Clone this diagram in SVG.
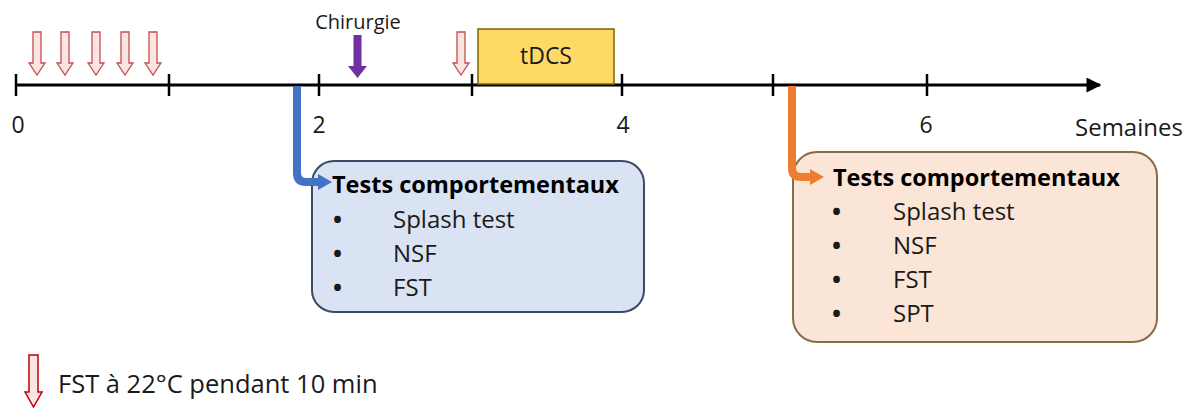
<svg xmlns="http://www.w3.org/2000/svg" width="1195" height="410" viewBox="0 0 1195 410">
<defs>
<style>
.t{font-family:"Open Sans","Noto Sans",sans-serif;fill:#1a1a1a}
.lbl{font-size:23px}
.ttl{font-size:23.5px;font-weight:bold;fill:#000}
.itm{font-size:24px}
.bul{font-size:24px;font-weight:bold}
.tick{stroke:#000;stroke-width:2.5}
.pink{fill:#FCE4E4;stroke:#C0504D;stroke-width:1.3}
</style>
<marker id="axHead" viewBox="0 0 10 10" refX="9" refY="5" markerWidth="6" markerHeight="5" orient="auto" markerUnits="strokeWidth"><path d="M0,0 L10,5 L0,10 z" fill="#000"/></marker>
</defs>
<rect width="1195" height="410" fill="#fff"/>

<g id="timeline">
<line x1="16" y1="85" x2="1100" y2="85" stroke="#000" stroke-width="3" marker-end="url(#axHead)"/>
<line class="tick" x1="16" y1="74" x2="16" y2="96"/>
<line class="tick" x1="169" y1="74" x2="169" y2="96"/>
<line class="tick" x1="319" y1="74" x2="319" y2="96"/>
<line class="tick" x1="472" y1="74" x2="472" y2="96"/>
<line class="tick" x1="622" y1="74" x2="622" y2="96"/>
<line class="tick" x1="773" y1="74" x2="773" y2="96"/>
<line class="tick" x1="927" y1="74" x2="927" y2="96"/>
<text class="t lbl" x="18" y="133" text-anchor="middle">0</text>
<text class="t lbl" x="319" y="133" text-anchor="middle">2</text>
<text class="t lbl" x="623" y="133" text-anchor="middle">4</text>
<text class="t lbl" x="926" y="133" text-anchor="middle">6</text>
<text class="t" x="1075" y="136" font-size="24">Semaines</text>
</g>

<g id="fst-arrows">
<path class="pink" d="M33,32 H41 V63 H45 L37,75 L29,63 H33 Z"/>
<path class="pink" d="M61,32 H69 V63 H73 L65,75 L57,63 H61 Z"/>
<path class="pink" d="M92,32 H100 V63 H104 L96,75 L88,63 H92 Z"/>
<path class="pink" d="M121,32 H129 V63 H133 L125,75 L117,63 H121 Z"/>
<path class="pink" d="M149,32 H157 V63 H161 L153,75 L145,63 H149 Z"/>
<path class="pink" d="M457,32 H465 V63 H469 L461,75 L453,63 H457 Z"/>
</g>

<g id="chirurgie">
<text class="t" x="358" y="29" font-size="20" text-anchor="middle">Chirurgie</text>
<path d="M353.5,35 H361.5 V66 H367 L357.5,78 L348,66 H353.5 Z" fill="#7030A0"/>
</g>

<g id="tdcs">
<rect x="478" y="29" width="136" height="55" fill="#FFD966" stroke="#7F6000" stroke-width="1.5"/>
<text class="t" x="546" y="64" font-size="23" text-anchor="middle">tDCS</text>
</g>

<g id="box-blue">
<rect x="312" y="161" width="332" height="151" rx="22" fill="#DAE3F3" stroke="#3B4A66" stroke-width="2"/>
<text class="t ttl" x="332" y="193">Tests comportementaux</text>
<text class="t bul" x="333" y="228">•</text>
<text class="t itm" x="393" y="228">Splash test</text>
<text class="t bul" x="333" y="262">•</text>
<text class="t itm" x="393" y="262">NSF</text>
<text class="t bul" x="333" y="296">•</text>
<text class="t itm" x="393" y="296">FST</text>
</g>

<g id="box-orange">
<rect x="793" y="152" width="364" height="190" rx="24" fill="#FBE5D6" stroke="#8C6A45" stroke-width="2"/>
<text class="t ttl" x="833" y="186">Tests comportementaux</text>
<text class="t bul" x="832" y="220">•</text>
<text class="t itm" x="893" y="220">Splash test</text>
<text class="t bul" x="832" y="254">•</text>
<text class="t itm" x="893" y="254">NSF</text>
<text class="t bul" x="832" y="288">•</text>
<text class="t itm" x="893" y="288">FST</text>
<text class="t bul" x="832" y="322">•</text>
<text class="t itm" x="893" y="322">SPT</text>
</g>

<g id="connectors">
<path d="M297,86 V173 Q297,182 306,182 H320" fill="none" stroke="#4472C4" stroke-width="8"/>
<path d="M318,174 L332,182 L318,190 Z" fill="#4472C4"/>
<path d="M792,86 V168 Q792,177 801,177 H812" fill="none" stroke="#ED7D31" stroke-width="8"/>
<path d="M810,169 L824,177 L810,185 Z" fill="#ED7D31"/>
</g>

<g id="legend">
<path d="M29,355 H38 V392 H42 L33.5,407 L25,392 H29 Z" fill="#FCE4E4" stroke="#C00000" stroke-width="1.5"/>
<text class="t" x="58" y="393" font-size="25.5">FST à 22°C pendant 10 min</text>
</g>
</svg>
